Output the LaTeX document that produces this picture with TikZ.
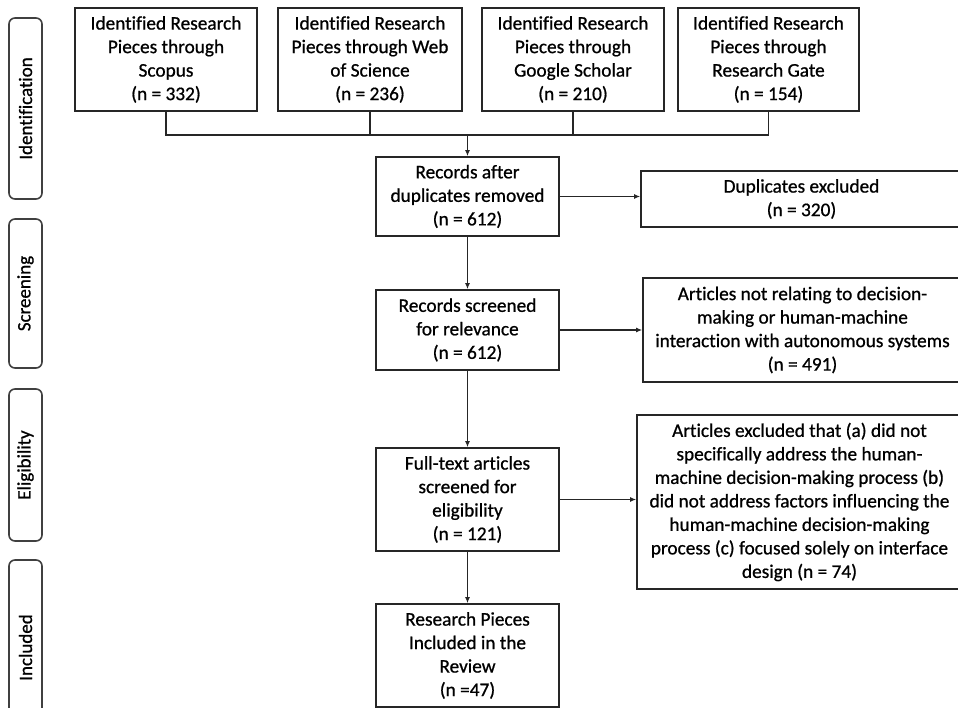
\documentclass[tikz,border=0pt]{standalone}
\usepackage{fontspec}
\setmainfont{Carlito}[FakeBold=0.8,Ligatures=CommonOff]
\usetikzlibrary{arrows.meta}
\begin{document}
\begin{tikzpicture}[x=1pt,y=-1pt,
  line width=1.6pt, draw=black!85,
  box/.style={draw=black!85, line width=1.6pt, align=center, inner sep=0pt,
    font=\fontsize{19.3}{23.5}\selectfont},
  phase/.style={draw=black!75, line width=1.6pt, rounded corners=6pt, rotate=90,
    minimum height=33pt, inner sep=0pt, font=\fontsize{19}{22}\selectfont},
  arr/.style={-{Latex[length=6pt,width=5pt]}, line width=1.6pt, draw=black!85}]
\useasboundingbox (0,0) rectangle (958,708);
\clip (0,0) rectangle (958,708);
% phase labels
\node[phase, minimum width=181pt] (pid) at (25.5,108.5) {Identification};
\node[phase, minimum width=149pt] (psc) at (25.5,293.5) {Screening};
\node[phase, minimum width=152pt] (pel) at (25.5,465) {Eligibility};
\node[phase, minimum width=175pt] (pin) at (25.5,647.5) {Included};
% top boxes
\node[box, minimum width=182pt, minimum height=103pt] (scopus) at (166,59.5)
  {Identified Research\\Pieces through\\Scopus\\(n = 332)};
\node[box, minimum width=184pt, minimum height=103pt] (wos) at (370,59.5)
  {Identified Research\\Pieces through Web\\of Science\\(n = 236)};
\node[box, minimum width=182pt, minimum height=103pt] (gs) at (573,59.5)
  {Identified Research\\Pieces through\\Google Scholar\\(n = 210)};
\node[box, minimum width=181pt, minimum height=103pt] (rg) at (768.5,59.5)
  {Identified Research\\Pieces through\\Research Gate\\(n = 154)};
% main column
\node[box, minimum width=183pt, minimum height=79pt] (rec) at (467.5,196.5)
  {Records after\\duplicates removed\\(n = 612)};
\node[box, minimum width=183pt, minimum height=80pt] (scr) at (467.5,330)
  {Records screened\\for relevance\\(n = 612)};
\node[box, minimum width=183pt, minimum height=103pt] (full) at (467.5,499.5)
  {Full-text articles\\screened for\\eligibility\\(n = 121)};
\node[box, minimum width=183pt, minimum height=103pt] (incl) at (467.5,655.5)
  {Research Pieces\\Included in the\\Review\\(n =47)};
% right column
\node[box, minimum width=321pt, minimum height=56pt] (dup) at (801.5,199)
  {Duplicates excluded\\(n = 320)};
\node[box, minimum width=319pt, minimum height=104pt] (notrel) at (802.5,330)
  {Articles not relating to decision-\\making or human-machine\\interaction with autonomous systems\\(n = 491)};
\node[box, minimum width=325pt, minimum height=174pt] (excl) at (799.5,502)
  {Articles excluded that (a) did not\\specifically address the human-\\machine decision-making process (b)\\did not address factors influencing the\\human-machine decision-making\\process (c) focused solely on interface\\design (n = 74)};
% bus connector
\coordinate (bus) at (467.5,135);
\draw (scopus.south) |- (rg.south |- bus) -- (rg.south);
\draw (wos.south) -- (wos.south |- bus);
\draw (gs.south) -- (gs.south |- bus);
\draw[arr] (bus) -- (rec.north);
% vertical flow
\draw[arr] (rec) -- (scr);
\draw[arr] (scr) -- (full);
\draw[arr] (full) -- (incl);
% side arrows
\draw[arr] (rec.east) -- (rec.east -| dup.west);
\draw[arr] (scr.east) -- (scr.east -| notrel.west);
\draw[arr] (full.east) -- (full.east -| excl.west);
\end{tikzpicture}
\end{document}
